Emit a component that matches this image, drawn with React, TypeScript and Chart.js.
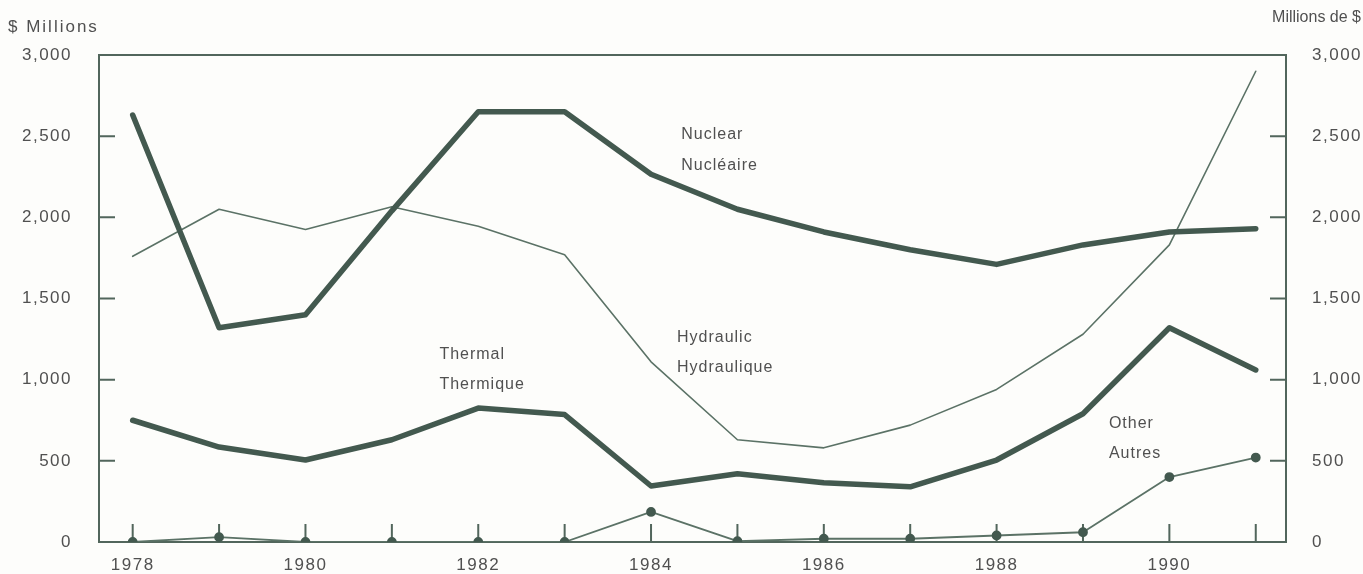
import { useEffect, useRef } from 'react';
import { Chart, registerables } from 'chart.js';

Chart.register(...registerables);

const years = [1978, 1979, 1980, 1981, 1982, 1983, 1984, 1985, 1986, 1987, 1988, 1989, 1990, 1991];
const nuclear = [2630, 1320, 1400, 2040, 2650, 2650, 2265, 2050, 1910, 1800, 1710, 1830, 1910, 1930];
const hydraulic = [1760, 2050, 1925, 2065, 1945, 1770, 1110, 630, 580, 720, 940, 1280, 1830, 2900];
const thermal = [750, 585, 505, 630, 825, 785, 345, 420, 365, 340, 505, 790, 1320, 1060];
const other = [0, 30, 0, 0, 0, 0, 185, 5, 20, 20, 40, 60, 400, 520];
const yTicks = [0, 500, 1000, 1500, 2000, 2500, 3000];
const xLabelYears = [1978, 1980, 1982, 1984, 1986, 1988, 1990];

const seriesLabels = [
  { text: 'Nuclear', x: 1984.35, y: 2510 },
  { text: 'Nucléaire', x: 1984.35, y: 2320 },
  { text: 'Thermal', x: 1981.55, y: 1154 },
  { text: 'Thermique', x: 1981.55, y: 969 },
  { text: 'Hydraulic', x: 1984.3, y: 1259 },
  { text: 'Hydraulique', x: 1984.3, y: 1074 },
  { text: 'Other', x: 1989.3, y: 728 },
  { text: 'Autres', x: 1989.3, y: 543 },
];

const FONT = '"Liberation Sans", Arial, Helvetica, sans-serif';
const TEXT = '#505050';
const AXIS = '#52665c';
const THICK = '#43594f';
const THIN = '#5b7266';

const pts = (vals: number[]) => years.map((x, i) => ({ x, y: vals[i] }));

const decor = {
  id: 'decor',
  beforeDraw(chart: any) {
    chart.ctx.letterSpacing = '1.5px';
  },
  beforeDatasetsDraw(chart: any) {
    const { ctx, chartArea: a, scales } = chart;
    ctx.save();
    ctx.strokeStyle = AXIS;
    ctx.lineWidth = 2;
    ctx.strokeRect(a.left, a.top, a.right - a.left, a.bottom - a.top);
    ctx.beginPath();
    years.forEach((yr) => {
      const px = scales.x.getPixelForValue(yr);
      ctx.moveTo(px, a.bottom);
      ctx.lineTo(px, a.bottom - 18);
    });
    yTicks.slice(1, -1).forEach((v) => {
      const py = scales.y.getPixelForValue(v);
      ctx.moveTo(a.left, py);
      ctx.lineTo(a.left + 16, py);
      ctx.moveTo(a.right, py);
      ctx.lineTo(a.right - 16, py);
    });
    ctx.stroke();
    ctx.restore();
  },
  afterDraw(chart: any) {
    const { ctx, scales } = chart;
    ctx.save();
    ctx.letterSpacing = '1px';
    ctx.fillStyle = TEXT;
    ctx.font = `16px ${FONT}`;
    ctx.textBaseline = 'middle';
    ctx.textAlign = 'left';
    seriesLabels.forEach((l) => {
      ctx.fillText(l.text, scales.x.getPixelForValue(l.x), scales.y.getPixelForValue(l.y));
    });
    ctx.letterSpacing = '2px';
    ctx.font = `17px ${FONT}`;
    ctx.fillText('$ Millions', 8, 27);
    ctx.letterSpacing = '0px';
    ctx.font = `16px ${FONT}`;
    ctx.textAlign = 'right';
    ctx.fillText('Millions de $', 1361, 18);
    ctx.restore();
  },
};

export default function App() {
  const ref = useRef<HTMLCanvasElement>(null);
  useEffect(() => {
    if (!ref.current) return;
    const font = { family: FONT, size: 17 };
    const yBase = {
      type: 'linear' as const,
      min: 0,
      max: 3000,
      afterBuildTicks: (s: any) => {
        s.ticks = yTicks.map((value) => ({ value }));
      },
      grid: { display: false, drawTicks: false },
      border: { display: false },
    };
    const chart = new Chart(ref.current, {
      type: 'line',
      data: {
        datasets: [
          { data: pts(nuclear), borderColor: THICK, borderWidth: 5.5, pointRadius: 0 },
          { data: pts(hydraulic), borderColor: THIN, borderWidth: 1.6, pointRadius: 0 },
          { data: pts(thermal), borderColor: THICK, borderWidth: 5.5, pointRadius: 0 },
          {
            data: pts(other),
            borderColor: THIN,
            borderWidth: 1.8,
            pointRadius: 4,
            pointBackgroundColor: THICK,
            pointBorderColor: THICK,
          },
        ],
      },
      options: {
        responsive: false,
        maintainAspectRatio: false,
        animation: false,
        events: [],
        layout: { padding: { top: 55, left: 0, right: 0, bottom: 0 } },
        elements: { line: { tension: 0, borderJoinStyle: 'round', borderCapStyle: 'round' } },
        plugins: { legend: { display: false }, tooltip: { enabled: false } },
        scales: {
          x: {
            type: 'linear',
            min: 1977.61,
            max: 1991.35,
            afterBuildTicks: (s: any) => {
              s.ticks = years.map((value) => ({ value }));
            },
            afterFit: (s: any) => {
              s.height = 32;
              s.paddingLeft = 0;
              s.paddingRight = 0;
            },
            ticks: {
              autoSkip: false,
              maxRotation: 0,
              padding: 14,
              color: TEXT,
              font: { family: FONT, size: 17, lineHeight: 1.06 },
              callback: (v: any) => (xLabelYears.includes(Number(v)) ? String(v) : ''),
            },
            grid: { display: false, drawTicks: false },
            border: { display: false },
          },
          y: {
            ...yBase,
            position: 'left',
            afterFit: (s: any) => {
              s.width = 99;
              s.paddingTop = 0;
              s.paddingBottom = 0;
            },
            ticks: {
              padding: 27,
              color: TEXT,
              font,
              callback: (v: any) => Number(v).toLocaleString('en-US'),
            },
          },
          y2: {
            ...yBase,
            position: 'right',
            afterFit: (s: any) => {
              s.width = 77;
              s.paddingTop = 0;
              s.paddingBottom = 0;
            },
            ticks: {
              padding: 26,
              color: TEXT,
              font,
              callback: (v: any) => Number(v).toLocaleString('en-US'),
            },
          },
        },
      } as any,
      plugins: [decor],
    });
    return () => chart.destroy();
  }, []);
  return (
    <div style={{ position: 'absolute', left: 0, top: 0, width: 1363, height: 574, background: '#fdfdfb' }}>
      <canvas ref={ref} width={1363} height={574} style={{ display: 'block', width: 1363, height: 574 }} />
    </div>
  );
}
